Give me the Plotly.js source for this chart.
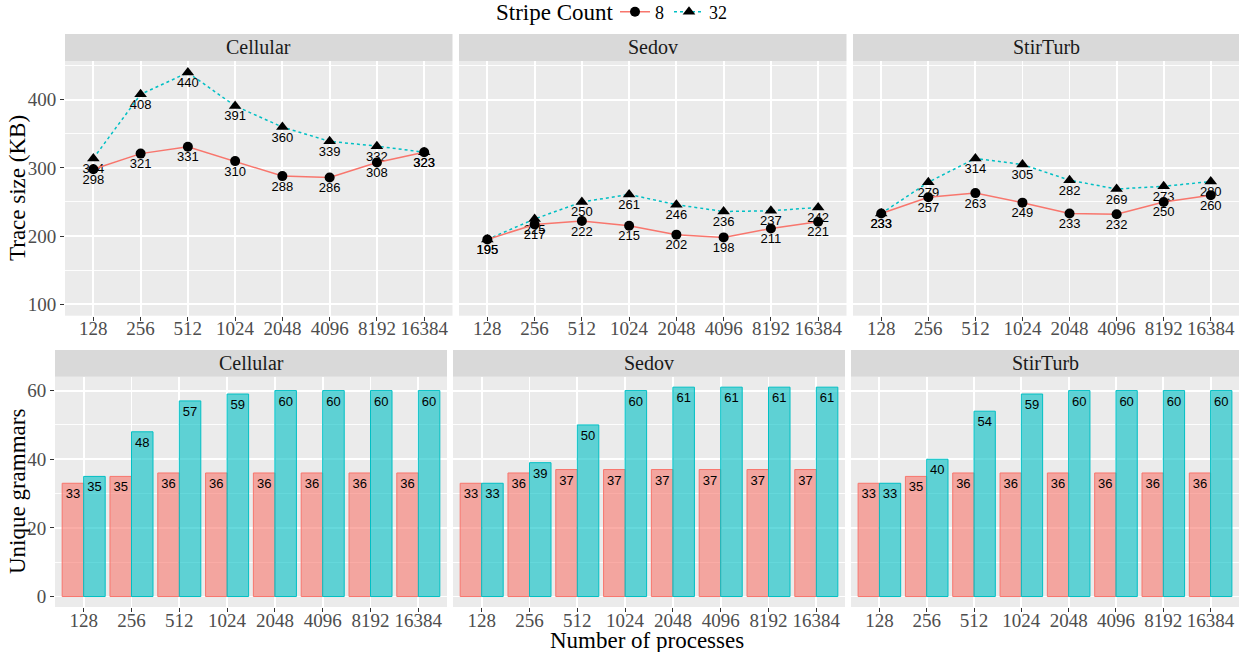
<!DOCTYPE html>
<html>
<head>
<meta charset="utf-8">
<script src="https://cdn.plot.ly/plotly-3.0.1.min.js"></script>
<style>html,body{margin:0;padding:0;background:#fff}#chart{width:1239px;height:652px}</style>
</head>
<body>
<div id="chart"></div>
<script>
// ---- data ----
const processes = ["128","256","512","1024","2048","4096","8192","16384"];
const facets = ["Cellular","Sedov","StirTurb"];
const stripeLabels = ["8","32"];
const legendTitle = "Stripe Count";

const cellularTrace8  = [298,321,331,310,288,286,308,323];
const cellularTrace32 = [314,408,440,391,360,339,332,323];
const sedovTrace8     = [195,217,222,215,202,198,211,221];
const sedovTrace32    = [195,225,250,261,246,236,237,242];
const stirTrace8      = [233,257,263,249,233,232,250,260];
const stirTrace32     = [233,279,314,305,282,269,273,280];

const cellularGram8  = [33,35,36,36,36,36,36,36];
const cellularGram32 = [35,48,57,59,60,60,60,60];
const sedovGram8     = [33,36,37,37,37,37,37,37];
const sedovGram32    = [33,39,50,60,61,61,61,61];
const stirGram8      = [33,35,36,36,36,36,36,36];
const stirGram32     = [33,40,54,59,60,60,60,60];

const traceData = [[cellularTrace8,cellularTrace32],[sedovTrace8,sedovTrace32],[stirTrace8,stirTrace32]];
const gramData  = [[cellularGram8,cellularGram32],[sedovGram8,sedovGram32],[stirGram8,stirGram32]];

// ---- layout geometry (px) ----
const W = 1239, H = 652;
const topX = [[65,452.5],[459,846.5],[853,1239]];
const botX = [[55,447],[453,845],[851,1239]];
const topY = [61,315.7], botY = [376.7,607];
const topStrip = [34,61], botStrip = [350,376.7];
const dx = p => [p[0]/W, p[1]/W];
const dy = p => [1-p[1]/H, 1-p[0]/H];

const RED = '#F8766D', CYAN = '#00BFC4';
const SERIF = 'Liberation Serif, Times New Roman, serif';
const SANS = 'Liberation Sans, Arial, sans-serif';

const traces = [];
const layout = {
  width: W, height: H,
  margin: {l:0,r:0,t:0,b:0, autoexpand:false},
  paper_bgcolor: '#FFFFFF',
  plot_bgcolor: '#EBEBEB',
  barmode: 'group', bargap: 0.1, bargroupgap: 0,
  showlegend: true,
  legend: {
    orientation: 'h', x: 615/W, xanchor: 'left', y: 1-12/H, yanchor: 'middle',
    font: {family: SERIF, size: 18, color: '#000'},
    itemwidth: 30, bgcolor: 'rgba(0,0,0,0)'
  },
  shapes: [], annotations: []
};

function axisCommon(extra){
  return Object.assign({
    showline: false, zeroline: false, showgrid: true, gridcolor: '#FFFFFF', gridwidth: 1.9,
    ticks: 'outside', ticklen: 4, tickwidth: 1, tickcolor: '#333333',
    tickfont: {family: SERIF, size: 19, color: '#4D4D4D'}, fixedrange: true
  }, extra);
}

for (let f = 0; f < 3; f++) {
  const iTop = f + 1, iBot = f + 4;
  const xt = 'x' + iTop, yt = 'y' + iTop, xb = 'x' + iBot, yb = 'y' + iBot;
  const [v8, v32] = traceData[f];
  const [g8, g32] = gramData[f];

  // text labels (drawn first, points over them)
  traces.push({type:'scatter', mode:'markers+text', x: processes, y: v32, text: v32.map(String),
    textposition:'bottom center', textfont:{family:SANS,size:13,color:'#000'},
    marker:{size:6,color:'rgba(0,0,0,0)'}, xaxis:xt, yaxis:yt, showlegend:false, hoverinfo:'skip', cliponaxis:false});
  traces.push({type:'scatter', mode:'markers+text', x: processes, y: v8, text: v8.map(String),
    textposition:'bottom center', textfont:{family:SANS,size:13,color:'#000'},
    marker:{size:6,color:'rgba(0,0,0,0)'}, xaxis:xt, yaxis:yt, showlegend:false, hoverinfo:'skip', cliponaxis:false});
  // lines + markers
  traces.push({type:'scatter', mode:'lines+markers', name: stripeLabels[1], x: processes, y: v32,
    line:{color:CYAN, width:1.5, dash:'dot'}, marker:{symbol:'triangle-up', size:11, color:'#000'},
    xaxis:xt, yaxis:yt, showlegend: f === 0, legendrank: 2, cliponaxis:false});
  traces.push({type:'scatter', mode:'lines+markers', name: stripeLabels[0], x: processes, y: v8,
    line:{color:RED, width:1.5}, marker:{symbol:'circle', size:10, color:'#000'},
    xaxis:xt, yaxis:yt, showlegend: f === 0, legendrank: 1, cliponaxis:false});

  // bars
  traces.push({type:'bar', name: stripeLabels[0], x: processes, y: g8, text: g8.map(String),
    textposition:'inside', insidetextanchor:'end', textangle:0, constraintext:'none',
    insidetextfont:{family:SANS,size:13,color:'#000'},
    marker:{color:'rgba(248,118,109,0.6)', line:{color:RED, width:1}},
    xaxis:xb, yaxis:yb, showlegend:false, offsetgroup:'a'});
  traces.push({type:'bar', name: stripeLabels[1], x: processes, y: g32, text: g32.map(String),
    textposition:'inside', insidetextanchor:'end', textangle:0, constraintext:'none',
    insidetextfont:{family:SANS,size:13,color:'#000'},
    marker:{color:'rgba(0,191,196,0.6)', line:{color:CYAN, width:1}},
    xaxis:xb, yaxis:yb, showlegend:false, offsetgroup:'b'});

  const sfx = i => (i === 1 ? '' : String(i));
  layout['xaxis' + sfx(iTop)] = axisCommon({domain: dx(topX[f]), anchor: yt, type:'category',
    categoryorder:'array', categoryarray: processes, range:[-0.6, 7.6], ticklabelstandoff: -9});
  layout['yaxis' + sfx(iTop)] = axisCommon({domain: dy(topY), anchor: xt, range:[83,457],
    tickmode:'linear', tick0:0, dtick:100,
    minor:{dtick:50, showgrid:true, gridcolor:'#FFFFFF', gridwidth:0.9},
    ticks: f === 0 ? 'outside' : '', showticklabels: f === 0});
  layout['xaxis' + iBot] = axisCommon({domain: dx(botX[f]), anchor: yb, type:'category',
    categoryorder:'array', categoryarray: processes, range:[-0.6, 7.6], ticklabelstandoff: -8});
  layout['yaxis' + iBot] = axisCommon({domain: dy(botY), anchor: xb, range:[-3.05,64.05],
    tickmode:'linear', tick0:0, dtick:20,
    minor:{dtick:10, showgrid:true, gridcolor:'#FFFFFF', gridwidth:0.9},
    ticks: f === 0 ? 'outside' : '', showticklabels: f === 0});

  // strips
  [[topX[f], topStrip],[botX[f], botStrip]].forEach(([xs, ys]) => {
    layout.shapes.push({type:'rect', xref:'paper', yref:'paper', layer:'below',
      x0: xs[0]/W, x1: xs[1]/W, y0: 1-ys[1]/H, y1: 1-ys[0]/H,
      fillcolor:'#D9D9D9', line:{width:0}});
    layout.annotations.push({xref:'paper', yref:'paper', x:(xs[0]+xs[1])/2/W, y:1-(ys[0]+ys[1])/2/H,
      xanchor:'center', yanchor:'middle', showarrow:false, text: facets[f],
      font:{family:SERIF, size:20, color:'#1A1A1A'}});
  });
}

// legend title
layout.annotations.push({xref:'paper', yref:'paper', x:616/W, y:1-12/H,
  xanchor:'right', yanchor:'middle', showarrow:false, text: legendTitle,
  font:{family:SERIF, size:23, color:'#000'}});

// axis titles
layout.annotations.push({xref:'paper', yref:'paper', x:17/W, y:1-188/H, textangle:-90,
  xanchor:'center', yanchor:'middle', showarrow:false, text:'Trace size (KB)',
  font:{family:SERIF, size:23, color:'#000'}});
layout.annotations.push({xref:'paper', yref:'paper', x:17/W, y:1-492/H, textangle:-90,
  xanchor:'center', yanchor:'middle', showarrow:false, text:'Unique grammars',
  font:{family:SERIF, size:23, color:'#000'}});
layout.annotations.push({xref:'paper', yref:'paper', x:647/W, y:1-640/H,
  xanchor:'center', yanchor:'middle', showarrow:false, text:'Number of processes',
  font:{family:SERIF, size:23, color:'#000'}});

Plotly.newPlot('chart', traces, layout, {displayModeBar:false, staticPlot:true});
</script>
</body>
</html>
